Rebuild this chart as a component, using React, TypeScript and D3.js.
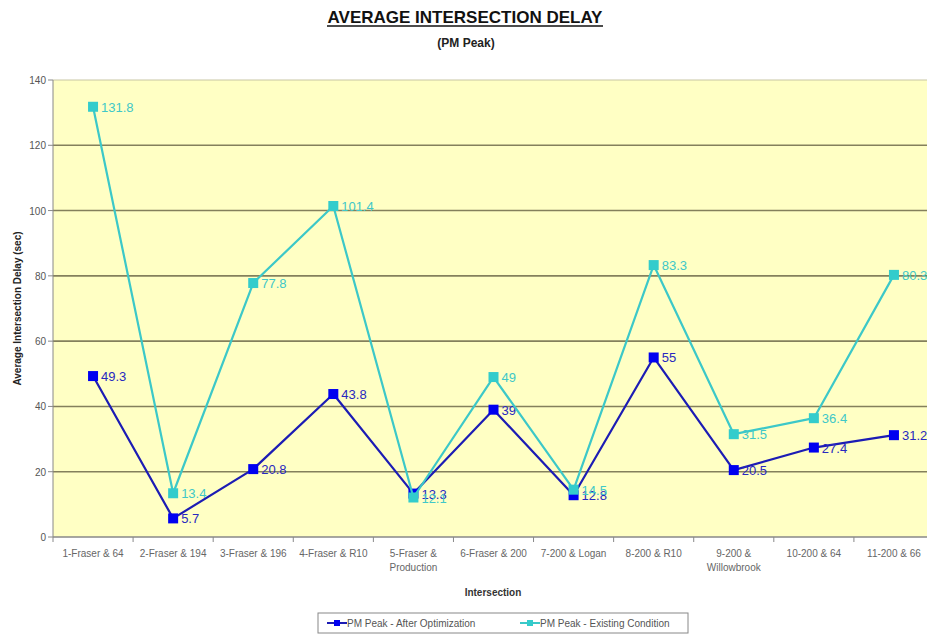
import React from 'react';
import { scaleLinear, scaleBand, line } from 'd3';

const intersections = [
    ['1-Fraser & 64'],
    ['2-Fraser & 194'],
    ['3-Fraser & 196'],
    ['4-Fraser & R10'],
    ['5-Fraser &', 'Production'],
    ['6-Fraser & 200'],
    ['7-200 & Logan'],
    ['8-200 & R10'],
    ['9-200 &', 'Willowbrook'],
    ['10-200 & 64'],
    ['11-200 & 66'],
];
const afterOptimization = [49.3, 5.7, 20.8, 43.8, 13.3, 39, 12.8, 55, 20.5, 27.4, 31.2];
const existingCondition = [131.8, 13.4, 77.8, 101.4, 12.1, 49, 14.5, 83.3, 31.5, 36.4, 80.3];
const yTicks = [0, 20, 40, 60, 80, 100, 120, 140];

const App = () => {
    const svgWidth = 927;
    const svgHeight = 635;
    const margin = { top: 80, left: 53, bottom: 537 };
    const plotRight = 934;

    const keys = intersections.map((d, i) => String(i));
    const x = scaleBand<string>().domain(keys).range([margin.left, plotRight]);
    const y = scaleLinear().domain([0, 140]).range([margin.bottom, margin.top]);
    const cx = (i: number) => x(String(i)) + x.bandwidth() / 2;

    const linefunc = line<number>().x((d, i) => cx(i)).y(d => y(d));

    const series = [
        { name: 'PM Peak - After Optimization', data: afterOptimization, line: '#1c1cb4', marker: '#0000f0', label: '#2828c0' },
        { name: 'PM Peak - Existing Condition', data: existingCondition, line: '#3cc8c8', marker: '#33cccc', label: '#40c8c8' },
    ];
    const font = '"Liberation Sans", Arial, sans-serif';

    return (
        <svg width={svgWidth} height={svgHeight} style={{ position: 'absolute', left: 0, top: 0, background: '#fff' }} fontFamily={font}>
            <text x={465} y={23} textAnchor='middle' fontSize={17} fontWeight='bold' fill='#111'>AVERAGE INTERSECTION DELAY</text>
            <line x1={327} x2={603} y1={26} y2={26} stroke='#111' strokeWidth={1.5} />
            <text x={466} y={47} textAnchor='middle' fontSize={12} fontWeight='bold' fill='#222'>(PM Peak)</text>

            <rect x={margin.left} y={margin.top} width={plotRight - margin.left} height={margin.bottom - margin.top} fill='#ffffc4' />
            {yTicks.map(t => (
                <g key={t}>
                    {t > 0 && t < 140 && <line x1={margin.left} x2={plotRight} y1={y(t)} y2={y(t)} stroke='#84805c' strokeWidth={1.6} />}
                    <line x1={margin.left - 5} x2={margin.left} y1={y(t)} y2={y(t)} stroke='#888' />
                    <text x={margin.left - 7} y={y(t) + 4} textAnchor='end' fontSize={10} fill='#555'>{t}</text>
                </g>
            ))}
            <line x1={margin.left} x2={plotRight} y1={y(140)} y2={y(140)} stroke='#c8c6a4' />
            <line x1={margin.left} x2={margin.left} y1={margin.top} y2={margin.bottom} stroke='#888' />
            <line x1={margin.left} x2={plotRight} y1={margin.bottom} y2={margin.bottom} stroke='#888' strokeWidth={1.3} />
            {keys.map((k, i) => (
                <g key={k}>
                    <line x1={x(k)} x2={x(k)} y1={margin.bottom} y2={margin.bottom + 5} stroke='#888' />
                    {intersections[i].map((s, j) => (
                        <text key={j} x={cx(i)} y={margin.bottom + 20 + j * 14} textAnchor='middle' fontSize={10} fill='#666'>{s}</text>
                    ))}
                </g>
            ))}

            {series.map(s => (
                <g key={s.name}>
                    <path d={linefunc(s.data)} fill='none' stroke={s.line} strokeWidth={2.2} strokeLinejoin='round' />
                    {s.data.map((v, i) => (
                        <rect key={i} x={cx(i) - 5} y={y(v) - 5} width={10} height={10} fill={s.marker} />
                    ))}
                    {s.data.map((v, i) => (
                        <text key={'l' + i} x={cx(i) + 8} y={y(v) + 5} fontSize={13} fill={s.label}>{v}</text>
                    ))}
                </g>
            ))}

            <text transform={`translate(21,${(margin.top + margin.bottom) / 2}) rotate(-90)`} textAnchor='middle' fontSize={10} fontWeight='bold' fill='#222'>Average Intersection Delay (sec)</text>
            <text x={493} y={596} textAnchor='middle' fontSize={10} fontWeight='bold' fill='#333'>Intersection</text>

            <rect x={318} y={613} width={370} height={20} fill='#fff' stroke='#888' />
            {series.map((s, i) => {
                const lx = 327 + i * 193;
                return (
                    <g key={s.name}>
                        <line x1={lx} x2={lx + 20} y1={623} y2={623} stroke={s.line} strokeWidth={2} />
                        <rect x={lx + 7} y={620} width={6} height={6} fill={s.marker} />
                        <text x={lx + 20} y={627} fontSize={10} fill='#555'>{s.name}</text>
                    </g>
                );
            })}
        </svg>
    );
};

export default App;
